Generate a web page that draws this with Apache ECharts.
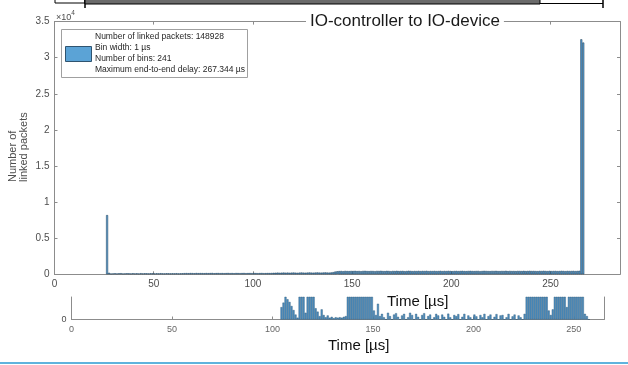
<!DOCTYPE html>
<html>
<head>
<meta charset="utf-8">
<script src="https://cdn.jsdelivr.net/npm/echarts@6/dist/echarts.min.js"></script>
<style>
  html, body { margin: 0; padding: 0; background: #fff; }
  #chart { width: 628px; height: 365px; }
</style>
</head>
<body>
<div id="chart"></div>
<script>
// histogram, bin width 1 µs, first bin starts at 26 µs
const binStart = 26
const binWidth = 1
const counts = [
  8200,
  // 27 - 64
  210, 95, 120, 140, 110, 135, 150, 105, 125, 140,
  130, 115, 145, 120, 135, 110, 150, 125, 140, 130,
  120, 145, 135, 115, 140, 125, 150, 130, 120, 145,
  135, 125, 140, 130, 150, 120, 135, 145,
  // 65 - 109
  160, 170, 155, 175, 165, 150, 180, 160, 170, 165,
  155, 175, 160, 170, 185, 150, 165, 175, 160, 170,
  155, 165, 180, 160, 170, 150, 175, 165, 160, 170,
  180, 155, 165, 170, 160, 175, 165, 155, 170, 180,
  160, 165, 175, 170, 185,
  // 110 - 140
  200, 215, 230, 210, 225, 240, 220, 235, 215, 230,
  245, 225, 210, 235, 250, 230, 220, 240, 255, 235,
  225, 245, 260, 240, 230, 250, 265, 245, 235, 260,
  300,
  // 141 - 264
  380, 420, 445, 460, 430, 470, 450, 440, 465, 455,
  475, 445, 460, 430, 470, 480, 450, 440, 465, 455,
  435, 470, 460, 485, 450, 440, 475, 455, 430, 465,
  450, 480, 445, 460, 470, 435, 455, 490, 465, 440,
  460, 450, 475, 445, 470, 455, 485, 440, 460, 450,
  470, 445, 455, 480, 440, 465, 450, 475, 460, 435,
  455, 470, 445, 460, 480, 450, 440, 465, 475, 455,
  445, 460, 470, 435, 455, 480, 465, 450, 440, 470,
  460, 475, 450, 445, 465, 455, 485, 440, 470, 450,
  455, 440, 470, 460, 450, 475, 445, 465, 480, 455,
  465, 450, 440, 470, 455, 485, 460, 445, 475, 450,
  460, 470, 445, 455, 480, 465, 440, 470, 455, 460,
  475, 450, 465, 490,
  // 265 - 266
  32550, 32100
]

// lower (zoomed) histogram, first bin starts at 104 µs
const lowerStart = 104
const lowerCounts = [
  55, 75, 120, 90, 78, 60, 42, 22, 8, 120,
  120, 120, 30, 120, 120, 120, 120, 50, 35, 15,
  45, 20, 10, 18, 8, 12, 6, 10, 8, 10,
  8, 12, 15, 120, 120, 120, 120, 120, 120, 120,
  120, 120, 120, 120, 120, 120, 40, 20, 70, 15,
  25, 10, 0, 30, 15, 0, 22, 28, 12, 0,
  18, 25, 0, 10, 30, 20, 0, 25, 12, 0,
  20, 28, 0, 15, 22, 0, 10, 25, 18, 0,
  22, 12, 0, 26, 10, 0, 20, 15, 24, 0,
  12, 25, 0, 18, 10, 0, 22, 14, 0, 20,
  10, 25, 0, 15, 22, 0, 12, 24, 0, 18,
  20, 0, 10, 25, 0, 14, 22, 0, 18, 10,
  0, 25, 120, 120, 120, 120, 120, 120, 120, 120,
  120, 120, 120, 40, 20, 45, 120, 120, 120, 120,
  120, 120, 55, 120, 120, 120, 120, 120, 120, 120,
  120, 25, 15, 0
]

const legendLines = [
  'Number of linked packets: 148928',
  'Bin width: 1 µs',
  'Number of bins: 241',
  'Maximum end-to-end delay: 267.344 µs'
]
const titleText = 'IO-controller to IO-device'
const xName = 'Time [µs]'
const yName = 'Number of\nlinked packets'

const font = 'Liberation Sans, Arial, Helvetica, sans-serif'
const axisGray = '#8c8c8c'
const labelGray = '#4d4d4d'

function toBars(start, values) {
  return values.map((v, i) => [start + (i + 0.5) * binWidth, v])
}

const chart = echarts.init(document.getElementById('chart'))

const frameAxis = {
  axisLine: { show: true, onZero: false, lineStyle: { color: axisGray, width: 1 } },
  axisTick: { show: true, inside: true, length: 3, lineStyle: { color: axisGray } },
  axisLabel: { show: false },
  splitLine: { show: false }
}

chart.setOption({
  animation: false,
  textStyle: { fontFamily: font },
  grid: [
    { left: 54.5, right: 8, top: 21.6, bottom: 90.7 },
    { left: 71.5, right: 24, top: 297, bottom: 45.5 }
  ],
  xAxis: [
    {
      type: 'value', gridIndex: 0, position: 'bottom', min: 0, max: 285, interval: 50,
      ...frameAxis,
      axisLabel: { show: true, fontSize: 10, color: labelGray, margin: 5, fontFamily: font, showMaxLabel: false }
    },
    { type: 'value', gridIndex: 0, position: 'top', min: 0, max: 285, interval: 50, ...frameAxis },
    {
      type: 'value', gridIndex: 1, position: 'bottom', min: 0, max: 265, interval: 50,
      ...frameAxis,
      axisLabel: { show: true, fontSize: 9, color: '#666', margin: 6, fontFamily: font, showMaxLabel: false }
    }
  ],
  yAxis: [
    {
      type: 'value', gridIndex: 0, position: 'left', min: 0, max: 35000, interval: 5000,
      ...frameAxis,
      axisLabel: {
        show: true, fontSize: 10, color: labelGray, margin: 5, fontFamily: font,
        formatter: v => String(v / 10000)
      }
    },
    { type: 'value', gridIndex: 0, position: 'right', min: 0, max: 35000, interval: 5000, ...frameAxis },
    {
      type: 'value', gridIndex: 1, position: 'left', min: 0, max: 100, interval: 100,
      ...frameAxis,
      axisTick: { show: false },
      axisLabel: {
        show: true, fontSize: 9, color: labelGray, margin: 5, fontFamily: font,
        showMaxLabel: false
      }
    },
    {
      type: 'value', gridIndex: 1, position: 'right', min: 0, max: 100,
      ...frameAxis,
      axisTick: { show: false }
    }
  ],
  series: [
    {
      type: 'bar',
      xAxisIndex: 0,
      yAxisIndex: 0,
      barWidth: 2,
      data: toBars(binStart, counts),
      itemStyle: { color: '#5a9fd2', borderColor: '#1f3c55', borderWidth: 0.5 }
    },
    {
      type: 'bar',
      xAxisIndex: 2,
      yAxisIndex: 2,
      barWidth: 2,
      clip: true,
      data: toBars(lowerStart, lowerCounts),
      itemStyle: { color: '#4d8fc2', borderColor: '#2a5574', borderWidth: 0.4 }
    }
  ],
  graphic: [
    // cut-off frame at the very top
    { type: 'rect', shape: { x: 55, y: -1, width: 30, height: 4 }, style: { fill: 'none', stroke: '#000', lineWidth: 1 } },
    { type: 'line', shape: { x1: 85, y1: 0, x2: 85, y2: 8 }, style: { stroke: '#000', lineWidth: 1.5 } },
    { type: 'rect', shape: { x: 85, y: -1, width: 455, height: 5 }, style: { fill: '#6b6b6b', stroke: '#000', lineWidth: 1 } },
    { type: 'line', shape: { x1: 540, y1: 3.5, x2: 603, y2: 3.5 }, style: { stroke: '#000', lineWidth: 1 } },
    { type: 'line', shape: { x1: 603, y1: 0, x2: 603, y2: 8 }, style: { stroke: '#000', lineWidth: 1.5 } },
    // title sitting on the top axis line
    {
      type: 'text', left: 306, top: 13, z: 100,
      style: {
        text: titleText, font: '17px ' + font, fill: '#1a1a1a',
        backgroundColor: '#fff', padding: [0, 4]
      }
    },
    // exponent label
    {
      type: 'text', left: 56, top: 10,
      style: {
        text: '{a|×10}{b|4}', fill: labelGray,
        rich: {
          a: { fontSize: 9, fontFamily: font, fill: labelGray, padding: [3, 0, 0, 0] },
          b: { fontSize: 6.5, fontFamily: font, fill: labelGray, verticalAlign: 'top' }
        }
      }
    },
    // y axis name, two lines aligned at the bottom
    {
      type: 'text', x: 8, y: 182, rotation: Math.PI / 2,
      style: {
        text: yName, font: '11px ' + font, fill: labelGray, lineHeight: 10.5,
        align: 'left', verticalAlign: 'top'
      }
    },
    // legend box
    { type: 'rect', z: 50, shape: { x: 61.5, y: 29.5, width: 186, height: 48 }, style: { fill: '#fff', stroke: '#a0a0a0', lineWidth: 1 } },
    { type: 'rect', z: 51, shape: { x: 65.5, y: 46.5, width: 26, height: 15 }, style: { fill: '#5ba3d6', stroke: '#2f5470', lineWidth: 1 } },
    ...legendLines.map((t, i) => ({
      type: 'text', z: 51, left: 95, top: 32 + i * 11,
      style: { text: t, font: '8.5px ' + font, fill: '#262626' }
    })),
    // axis names
    {
      type: 'text', z: 60, left: 387, top: 294,
      style: { text: xName, font: '15px ' + font, fill: '#111' }
    },
    {
      type: 'text', left: 328, top: 338,
      style: { text: xName, font: '15px ' + font, fill: '#111' }
    },
    // blue divider at the bottom
    { type: 'line', shape: { x1: 0, y1: 363, x2: 628, y2: 363 }, style: { stroke: '#2a9ad2', lineWidth: 1.5 } }
  ]
})
</script>
</body>
</html>
